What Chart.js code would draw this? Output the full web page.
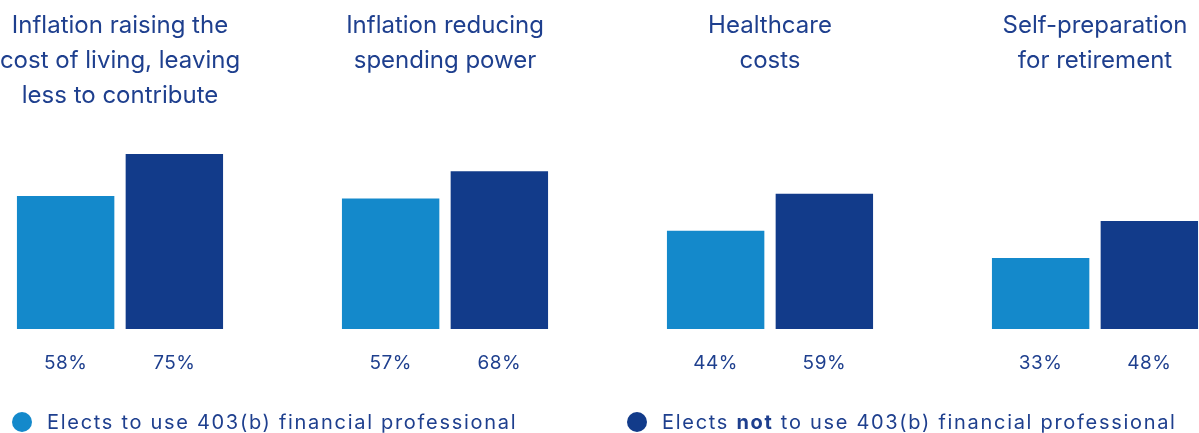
<!DOCTYPE html>
<html>
<head>
<meta charset="utf-8">
<script src="https://cdn.jsdelivr.net/npm/chart.js@4.4.1/dist/chart.umd.min.js"></script>
<style>
  html, body { margin: 0; padding: 0; background: #fff; }
  canvas { display: block; }
</style>
</head>
<body>
<canvas id="concerns" width="1199" height="433"></canvas>
<script>
// Retirement saving concerns, split by use of a 403(b) financial professional
const categories = [
  ['Inflation raising the', 'cost of living, leaving', 'less to contribute'],
  ['Inflation reducing', 'spending power'],
  ['Healthcare', 'costs'],
  ['Self-preparation', 'for retirement']
];
const usesProfessional = [58, 57, 44, 33];
const noProfessional = [75, 68, 59, 48];
const seriesNames = [
  'Elects to use 403(b) financial professional',
  'Elects not to use 403(b) financial professional'
];
// legend text pieces, second flag = bold
const legendParts = [
  [['Elects to use 403(b) financial professional', false]],
  [['Elects ', false], ['not', true], [' to use 403(b) financial professional', false]]
];

const lightBlue = '#1489CB';
const darkBlue = '#123B8A';
const textColor = '#1E3F8E';
const fontFamily = 'Inter, "Noto Sans", sans-serif';
const axisFloor = 4.4; // bars start here, not at zero

// titles above each group, percentages under each bar, legend along the bottom
const groupText = {
  id: 'groupText',
  afterDatasetsDraw(chart) {
    const ctx = chart.ctx;
    const xs = chart.scales.x;
    const area = chart.chartArea;
    ctx.save();
    ctx.fillStyle = textColor;
    ctx.textAlign = 'center';
    ctx.textBaseline = 'alphabetic';

    ctx.font = '24px ' + fontFamily;
    categories.forEach((lines, i) => {
      const cx = xs.getPixelForValue(i);
      lines.forEach((line, j) => ctx.fillText(line, cx, 33 + j * 35));
    });

    ctx.font = '19px ' + fontFamily;
    ctx.letterSpacing = '0.5px';
    chart.data.datasets.forEach((ds, d) => {
      chart.getDatasetMeta(d).data.forEach((bar, i) => {
        ctx.fillText(ds.data[i] + '%', bar.x, area.bottom + 40);
      });
    });

    // legend
    const legendX = [22, 637];
    const ly = 422;
    ctx.textAlign = 'left';
    ctx.letterSpacing = '1.7px';
    chart.data.datasets.forEach((ds, d) => {
      ctx.fillStyle = ds.backgroundColor;
      ctx.beginPath();
      ctx.arc(legendX[d], ly, 10, 0, Math.PI * 2);
      ctx.fill();
      ctx.fillStyle = textColor;
      let tx = legendX[d] + 25;
      legendParts[d].forEach(([txt, bold]) => {
        ctx.font = (bold ? '700 ' : '400 ') + '20px ' + fontFamily;
        ctx.fillText(txt, tx, ly + 7);
        tx += ctx.measureText(txt).width;
      });
    });
    ctx.restore();
  }
};

new Chart(document.getElementById('concerns'), {
  type: 'bar',
  data: {
    labels: categories,
    datasets: [{
      label: seriesNames[0],
      data: usesProfessional,
      backgroundColor: lightBlue,
      base: axisFloor,
      categoryPercentage: 0.669,
      barPercentage: 0.896,
      clip: false
    }, {
      label: seriesNames[1],
      data: noProfessional,
      backgroundColor: darkBlue,
      base: axisFloor,
      categoryPercentage: 0.669,
      barPercentage: 0.896,
      clip: false
    }]
  },
  options: {
    responsive: false,
    animation: false,
    layout: {
      padding: { top: 92, bottom: 104, left: 120, right: 104 }
    },
    scales: {
      x: { display: false, offset: false },
      y: { display: false, min: axisFloor, max: 100 }
    },
    plugins: {
      legend: { display: false },
      tooltip: { enabled: false }
    }
  },
  plugins: [groupText]
});
</script>
</body>
</html>
